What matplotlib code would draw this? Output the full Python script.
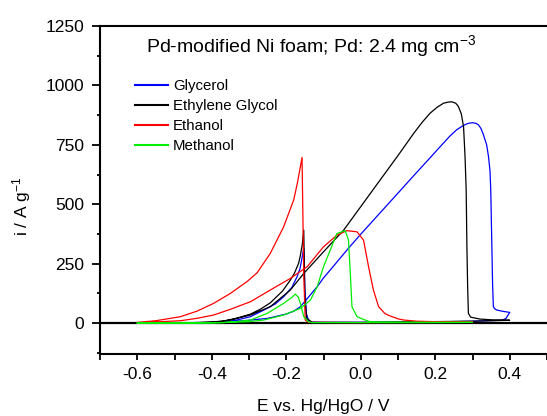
import numpy as np
import matplotlib
matplotlib.use("Agg")
from matplotlib import pyplot as plt
from matplotlib.ticker import MultipleLocator

plt.rcParams['font.family'] = ['Liberation Sans', 'DejaVu Sans']
plt.rcParams['mathtext.fontset'] = 'custom'
plt.rcParams['mathtext.rm'] = 'Liberation Sans'
plt.rcParams['mathtext.it'] = 'Liberation Sans'

# ---------------- data (E / V, i / A g-1) ----------------
# each curve: forward scan then reverse scan, one continuous polyline
glycerol_E = [-0.6, -0.5, -0.4, -0.35, -0.3, -0.25, -0.2, -0.18, -0.162, -0.14, -0.117, -0.1, -0.073,
              -0.033, 0.0, 0.052, 0.1, 0.142, 0.18, 0.213, 0.24, 0.258, 0.27, 0.28, 0.29, 0.301, 0.31,
              0.316, 0.323, 0.329, 0.338, 0.343, 0.347, 0.349, 0.352, 0.354, 0.356, 0.36, 0.365, 0.38, 0.4,
              0.39, 0.38, 0.3, 0.2, 0.0, -0.1, -0.13, -0.14, -0.146, -0.15, -0.153, -0.157, -0.163,
              -0.171, -0.185, -0.207, -0.23, -0.26, -0.296, -0.33, -0.36, -0.4, -0.5, -0.6]
glycerol_i = [0, 1, 3, 6, 12, 20, 38, 50, 69, 110, 153, 190, 240,
              315, 374, 464, 547, 620, 685, 742, 788, 814, 826, 835, 841, 843, 840,
              834, 818, 794, 750, 700, 640, 560, 321, 160, 69, 60, 55, 50, 45,
              20, 12, 8, 5, 3, 3, 4, 10, 40, 150, 314, 280, 230,
              195, 150, 111, 80, 55, 27, 14, 6, 2, 0, 0]

eg_E = [-0.6, -0.45, -0.4, -0.35, -0.296, -0.243, -0.189, -0.153, -0.1, -0.046, 0.0, 0.052,
        0.1, 0.142, 0.165, 0.186, 0.205, 0.222, 0.235, 0.245, 0.255, 0.262, 0.27, 0.276, 0.28, 0.283,
        0.285, 0.287, 0.289, 0.295, 0.32, 0.35, 0.4,
        0.3, 0.0, -0.13, -0.145, -0.15, -0.153, -0.157, -0.162, -0.167, -0.178, -0.189, -0.21, -0.243,
        -0.27, -0.296, -0.33, -0.377, -0.45, -0.6]
eg_i = [0, 2, 4, 13, 34, 69, 139, 209, 300, 391, 490, 602,
        705, 798, 845, 883, 908, 925, 930, 931, 925, 912, 880, 826, 700, 560,
        321, 150, 41, 25, 17, 14, 12,
        8, 3, 3, 20, 100, 391, 330, 285, 251, 210, 181, 135, 85,
        58, 38, 22, 5, 1, 0]

ethanol_E = [-0.6, -0.55, -0.484, -0.44, -0.395, -0.35, -0.296, -0.243, -0.189, -0.144, -0.1, -0.064,
             -0.037, -0.01, 0.0075, 0.021, 0.034, 0.048, 0.065, 0.079, 0.1, 0.115, 0.15, 0.2, 0.3,
             0.2, 0.0, -0.13, -0.14, -0.149, -0.153, -0.1576, -0.163, -0.17, -0.18, -0.207, -0.243,
             -0.278, -0.305, -0.35, -0.395, -0.44, -0.484, -0.55, -0.6]
ethanol_i = [0, 5, 10, 20, 34, 58, 90, 139, 188, 237, 321, 370,
             389, 384, 349, 237, 139, 69, 40, 30, 18, 13, 8, 6, 5,
             3, 2, 3, 3, 13, 200, 697, 650, 590, 518, 405, 293,
             212, 175, 125, 83, 50, 27, 10, 3]

methanol_E = [-0.6, -0.4, -0.3, -0.26, -0.207, -0.162, -0.135, -0.117, -0.1, -0.082, -0.064, -0.0415,
              -0.033, -0.028, -0.0236, -0.01, 0.008, 0.025, 0.05, 0.1, 0.3,
              0.2, 0.0, -0.13, -0.14, -0.153, -0.162, -0.168, -0.176, -0.185, -0.207, -0.251, -0.296,
              -0.33, -0.37, -0.45, -0.6]
methanol_i = [0, 1, 6, 13, 34, 62, 97, 153, 237, 307, 377, 389,
              349, 209, 69, 27, 15, 6, 5, 4, 3,
              2, 2, 2, 5, 27, 83, 110, 122, 108, 83, 41, 13,
              7, 2, 1, 0]

labels = ["Glycerol", "Ethylene Glycol", "Ethanol", "Methanol"]
colors = ["#0000ff", "#000000", "#ff0000", "#00ee00"]

# ---------------------------- figure ----------------------------
fig = plt.figure(figsize=(5.47, 4.16), dpi=100)
ax = fig.add_axes([100 / 547, 62 / 416, 447 / 547, 328 / 416])

ax.axhline(0, color="black", lw=1.6, zorder=1)

curves = [(glycerol_E, glycerol_i), (eg_E, eg_i), (ethanol_E, ethanol_i), (methanol_E, methanol_i)]
for (E, i), lab, col in zip(curves, labels, colors):
    ax.plot(E, i, color=col, lw=0.9, label=lab, zorder=2)

ax.set_xlim(-0.7, 0.5)
ax.set_ylim(-130, 1250)
ax.xaxis.set_major_locator(MultipleLocator(0.2))
ax.xaxis.set_minor_locator(MultipleLocator(0.1))
ax.yaxis.set_major_locator(MultipleLocator(250))
ax.yaxis.set_minor_locator(MultipleLocator(125))
ax.xaxis.set_major_formatter(lambda v, p: f"{v:.1f}")

ax.tick_params(which="both", direction="out", width=1.3, labelsize=12.5, top=False, right=False)
ax.tick_params(axis="y", which="major", length=5.8, pad=5.5)
ax.tick_params(axis="y", which="minor", length=2.5)
ax.tick_params(axis="x", which="both", length=4.5, pad=5)

for side in ["left", "top", "bottom"]:
    ax.spines[side].set_linewidth(1.5)
ax.spines["right"].set_visible(False)

ax.set_xlabel("E vs. Hg/HgO / V", fontsize=12.5, labelpad=12)
ax.set_ylabel("i / A g$^{-1}$", fontsize=12.5)
ax.yaxis.set_label_coords(-0.15, 0.451)

ax.text(0.472, 0.94, "Pd-modified Ni foam; Pd: 2.4 mg cm$^{-3}$", transform=ax.transAxes,
        ha="center", va="center", fontsize=14)

leg = ax.legend(loc="upper left", bbox_to_anchor=(135 / 547, (416 - 79) / 416),
                bbox_transform=fig.transFigure, frameon=False, fontsize=10.8,
                handlelength=2.2, handletextpad=0.35, labelspacing=0.4,
                borderpad=0, borderaxespad=0)
for line in leg.get_lines():
    line.set_linewidth(1.5)

fig.savefig("out.png", dpi=100)
